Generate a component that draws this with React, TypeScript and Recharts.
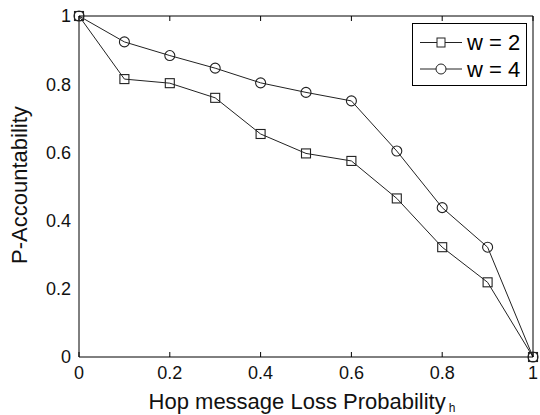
import React from "react";
import { LineChart, Line, XAxis, YAxis, Legend, Label } from "recharts";

const lossProb = [0, 0.1, 0.2, 0.3, 0.4, 0.5, 0.6, 0.7, 0.8, 0.9, 1];
const accW2 = [1, 0.815, 0.803, 0.76, 0.654, 0.597, 0.575, 0.465, 0.322, 0.219, 0];
const accW4 = [1, 0.924, 0.884, 0.847, 0.804, 0.776, 0.751, 0.604, 0.438, 0.322, 0];
const xTicks = [0, 0.2, 0.4, 0.6, 0.8, 1];
const yTicks = [0, 0.2, 0.4, 0.6, 0.8, 1];
const seriesNames = ["w = 2", "w = 4"];

const data = lossProb.map((p, i) => ({ p, w2: accW2[i], w4: accW4[i] }));

const FONT = "'Liberation Sans', Arial, Helvetica, sans-serif";
const INK = "#222";

const SquareDot = (props: any) => {
  const { cx, cy, index } = props;
  return (
    <rect
      key={`sq-${index}`}
      x={cx - 4.5}
      y={cy - 4.5}
      width={9}
      height={9}
      fill="none"
      stroke={INK}
      strokeWidth={1.1}
    />
  );
};

const CircleDot = (props: any) => {
  const { cx, cy, index } = props;
  return (
    <circle key={`ci-${index}`} cx={cx} cy={cy} r={5} fill="none" stroke={INK} strokeWidth={1.1} />
  );
};

// tick-only axes draw their marks but no labels
const NoLabel = () => <g />;

const LegendBox = () => (
  <svg width={116} height={64} style={{ display: "block" }}>
    <rect x={0.5} y={0.5} width={114} height={62} fill="#fff" stroke="#000" />
    <line x1={8} x2={50} y1={19.5} y2={19.5} stroke={INK} />
    <rect x={25} y={15} width={8} height={9} fill="#fff" stroke={INK} />
    <text x={55} y={27} fontSize={22} fontFamily={FONT} fill="#000">
      {seriesNames[0]}
    </text>
    <line x1={8} x2={50} y1={46} y2={46} stroke={INK} />
    <circle cx={29} cy={46} r={5} fill="#fff" stroke={INK} />
    <text x={55} y={54} fontSize={22} fontFamily={FONT} fill="#000">
      {seriesNames[1]}
    </text>
  </svg>
);

const XLabel = () => (
  <text x={302} y={409} textAnchor="middle" fontSize={22} fontFamily={FONT} fill="#111">
    Hop message Loss Probability
    <tspan dx={3} dy={3} fontSize={12}>
      h
    </tspan>
  </text>
);

const YLabel = () => (
  <text
    x={27}
    y={185}
    transform="rotate(-90, 27, 185)"
    textAnchor="middle"
    fontSize={22}
    fontFamily={FONT}
    fill="#111"
  >
    P-Accountability
  </text>
);

const tickStyle = { fontSize: 18, fontFamily: FONT, fill: "#111" };
const tickMark = { stroke: "#000", strokeWidth: 1 };

export default function App() {
  return (
    <div style={{ position: "absolute", left: 0, top: 0, background: "#fff" }}>
      <LineChart width={540} height={415} data={data} margin={{ top: 16, right: 7, left: 0, bottom: 0 }}>
        <XAxis
          dataKey="p"
          type="number"
          domain={[0, 1]}
          ticks={xTicks}
          height={58}
          tickSize={0}
          tickLine={false}
          tickMargin={9}
          tick={tickStyle}
          stroke="#000"
          interval={0}
        >
          <Label content={<XLabel />} />
        </XAxis>
        <XAxis
          xAxisId="bt"
          dataKey="p"
          type="number"
          orientation="bottom"
          mirror
          domain={[0, 1]}
          ticks={xTicks}
          height={1}
          tickSize={5}
          tick={NoLabel}
          tickLine={tickMark}
          axisLine={false}
          interval={0}
        />
        <XAxis
          xAxisId="top"
          dataKey="p"
          type="number"
          orientation="top"
          mirror
          domain={[0, 1]}
          ticks={xTicks}
          height={1}
          tickSize={5}
          tick={NoLabel}
          tickLine={tickMark}
          stroke="#000"
          interval={0}
        />
        <YAxis
          type="number"
          domain={[0, 1]}
          ticks={yTicks}
          width={79}
          tickSize={0}
          tickLine={false}
          tickMargin={8}
          tick={tickStyle}
          stroke="#000"
          interval={0}
        >
          <Label content={<YLabel />} />
        </YAxis>
        <YAxis
          yAxisId="lt"
          orientation="left"
          mirror
          type="number"
          domain={[0, 1]}
          ticks={yTicks}
          width={1}
          tickSize={5}
          tick={NoLabel}
          tickLine={tickMark}
          axisLine={false}
          interval={0}
        />
        <YAxis
          yAxisId="right"
          orientation="right"
          mirror
          type="number"
          domain={[0, 1]}
          ticks={yTicks}
          width={1}
          tickSize={5}
          tick={NoLabel}
          tickLine={tickMark}
          stroke="#000"
          interval={0}
        />
        <Line
          dataKey="w2"
          name={seriesNames[0]}
          stroke={INK}
          strokeWidth={1}
          dot={<SquareDot />}
          isAnimationActive={false}
        />
        <Line
          dataKey="w4"
          name={seriesNames[1]}
          stroke={INK}
          strokeWidth={1}
          dot={<CircleDot />}
          isAnimationActive={false}
        />
        <Legend
          layout="horizontal"
          verticalAlign="middle"
          align="center"
          content={<LegendBox />}
          wrapperStyle={{ position: "absolute", left: 412, top: 23, width: 116, height: 64 }}
        />
      </LineChart>
    </div>
  );
}
